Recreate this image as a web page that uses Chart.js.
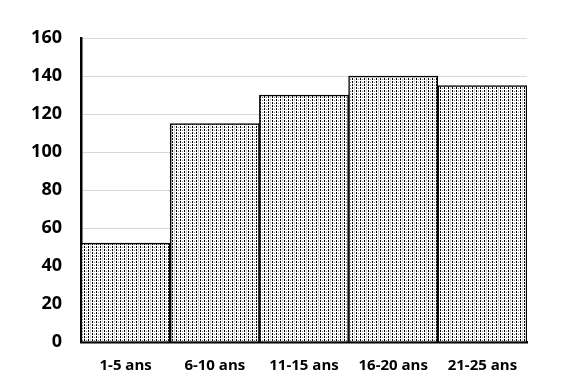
<!DOCTYPE html>
<html>
<head>
<meta charset="utf-8">
<script src="https://cdn.jsdelivr.net/npm/chart.js@4"></script>
<style>
html,body{margin:0;padding:0;background:#fff;}
#wrap{width:562px;height:392px;}
</style>
</head>
<body>
<div id="wrap"><canvas id="c" width="562" height="392"></canvas></div>
<script>
const categories = ["1-5 ans", "6-10 ans", "11-15 ans", "16-20 ans", "21-25 ans"];
const values = [52, 115, 130, 140, 135];
const yTicks = [0, 20, 40, 60, 80, 100, 120, 140, 160];

function makePattern() {
  const p = document.createElement('canvas');
  p.width = 12; p.height = 3;
  const g = p.getContext('2d');
  g.fillStyle = '#ffffff';
  g.fillRect(0, 0, 12, 3);
  g.fillStyle = '#d0d0d0';
  g.fillRect(6, 0, 1, 3);
  g.fillStyle = '#000000';
  for (let x = 0; x < 12; x += 4) {
    g.fillRect(x, 0, 1, 2);
  }
  g.fillStyle = '#888888';
  g.fillRect(2, 1, 1, 1);
  g.fillRect(10, 1, 1, 1);
  return g.createPattern(p, 'repeat');
}

const ctx = document.getElementById('c').getContext('2d');
new Chart(ctx, {
  type: 'bar',
  data: {
    labels: categories,
    datasets: [{
      data: values,
      backgroundColor: makePattern(),
      borderColor: '#000',
      borderWidth: 1.5,
      borderSkipped: 'bottom',
      categoryPercentage: 1.0,
      barPercentage: 1.0
    }]
  },
  options: {
    responsive: false,
    animation: false,
    devicePixelRatio: 1,
    plugins: { legend: { display: false }, tooltip: { enabled: false } },
    layout: { padding: { left: 0, right: 35, top: 38, bottom: 0 } },
    scales: {
      x: {
        grid: { display: false, drawTicks: false },
        border: { color: '#000', width: 2.5 },
        ticks: {
          color: '#000',
          padding: 15,
          font: { family: 'Open Sans', size: 15, weight: 'bold' }
        },
        afterFit: s => { s.height = 50; }
      },
      y: {
        min: 0, max: 160,
        afterBuildTicks: s => { s.ticks = yTicks.map(v => ({ value: v })); },
        grid: { color: '#d9d9d9', lineWidth: 1, drawTicks: false },
        border: { color: '#000', width: 2.5 },
        ticks: {
          color: '#000',
          padding: 19,
          font: { family: 'Open Sans', size: 18, weight: 'bold' }
        },
        afterFit: s => { s.width = 81; }
      }
    }
  }
});
</script>
</body>
</html>
